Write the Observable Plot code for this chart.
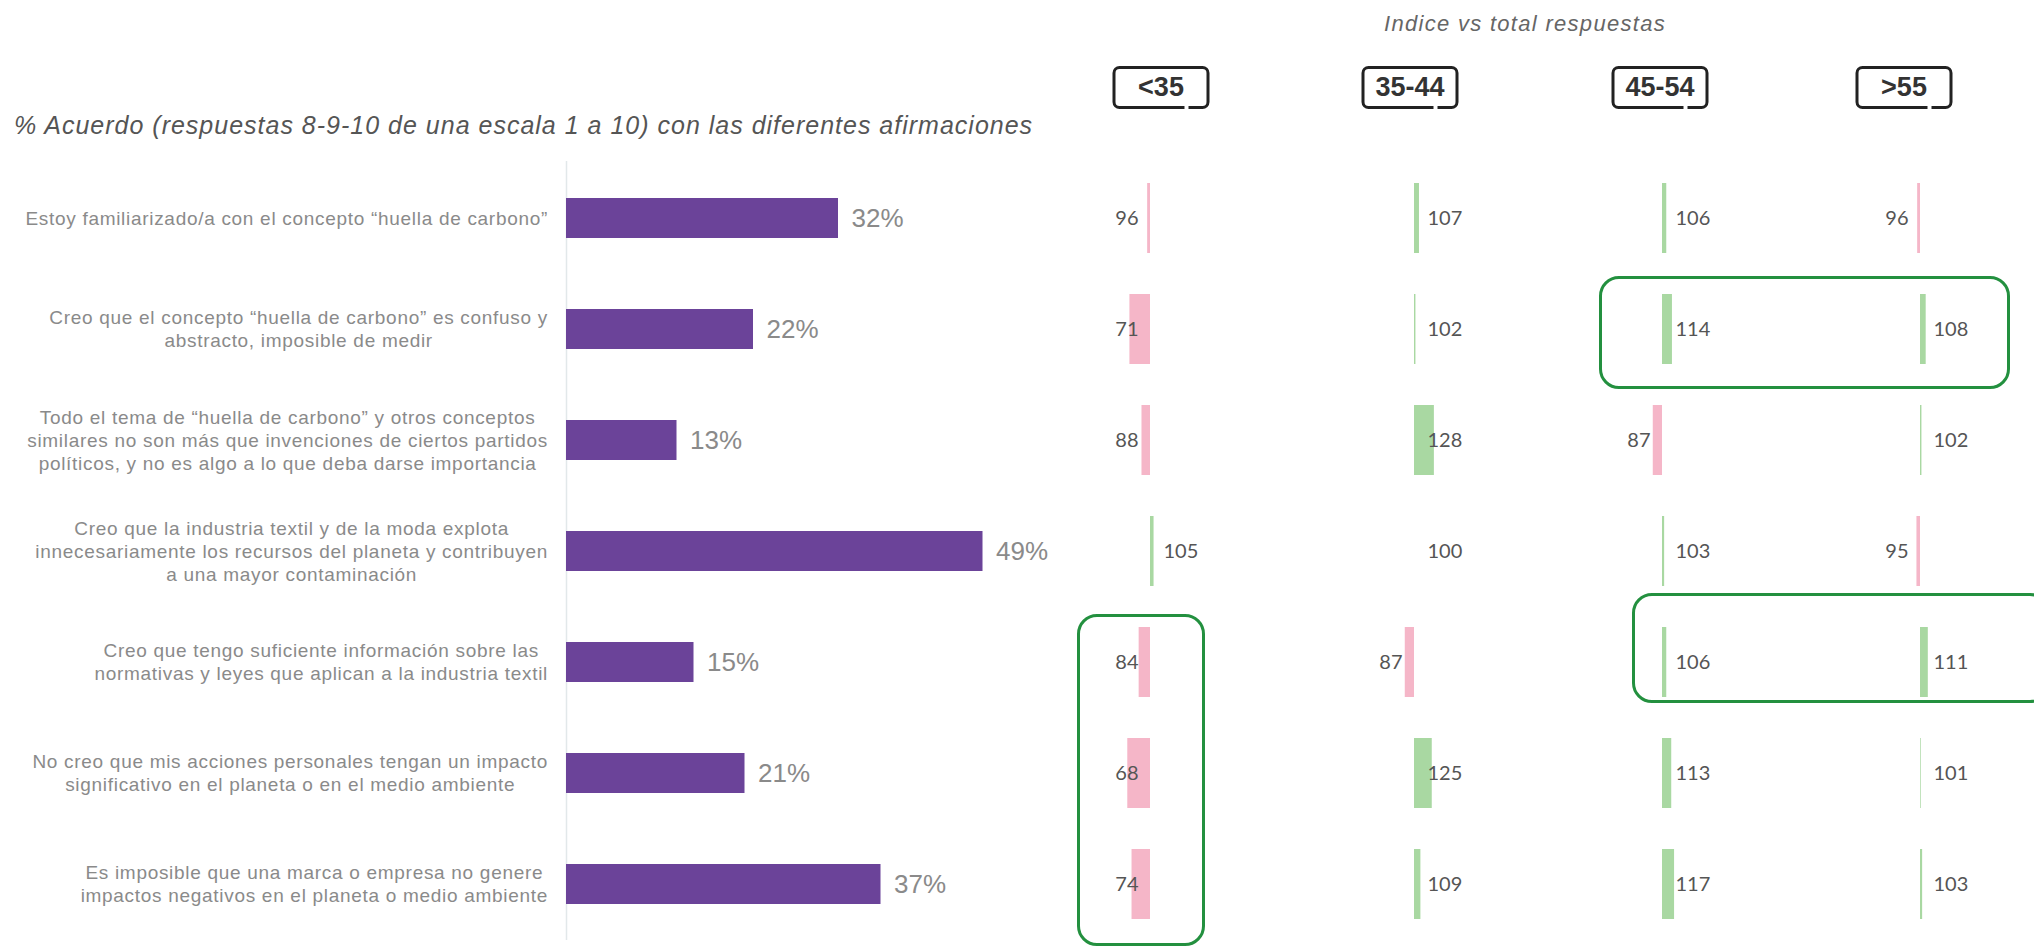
<!DOCTYPE html>
<html><head><meta charset="utf-8">
<script src="https://cdn.jsdelivr.net/npm/d3@7"></script>
<script src="https://cdn.jsdelivr.net/npm/@observablehq/plot@0.6"></script>
<style>
body{margin:0;background:#fff;}
#wrap{position:relative;width:2034px;height:947px;overflow:hidden;font-family:"Liberation Sans",Arial,sans-serif;}
#wrap svg{position:absolute;}
#title{position:absolute;left:14px;top:111px;font-size:25px;letter-spacing:1px;font-style:italic;color:#555;white-space:nowrap;}
#subtitle{position:absolute;left:1525px;top:11px;transform:translateX(-50%);font-size:22px;letter-spacing:1.3px;font-style:italic;color:#666;white-space:nowrap;}
.hdr{position:absolute;top:66px;height:43px;width:97px;box-sizing:border-box;border:3px solid #222;border-radius:7px;font-weight:bold;font-size:27px;color:#333;display:flex;align-items:center;justify-content:center;transform:translateX(-50%);}
.hdr::after{content:"";position:absolute;bottom:-4px;right:20%;width:4px;height:6px;background:#fff;}
.cat{position:absolute;text-align:center;font-size:19px;letter-spacing:0.7px;line-height:23px;color:#8a8a8a;transform:translateY(-50%);white-space:pre;}
.gbox{position:absolute;box-sizing:border-box;border:3.5px solid #23903f;border-radius:20px;}
</style></head>
<body><div id="wrap"></div>
<script>
// ---------- data ----------
const statements = [
  "Estoy familiarizado/a con el concepto “huella de carbono”",
  "Creo que el concepto “huella de carbono” es confuso y\nabstracto, imposible de medir",
  "Todo el tema de “huella de carbono” y otros conceptos\nsimilares no son más que invenciones de ciertos partidos\npolíticos, y no es algo a lo que deba darse importancia",
  "Creo que la industria textil y de la moda explota\ninnecesariamente los recursos del planeta y contribuyen\na una mayor contaminación",
  "Creo que tengo suficiente información sobre las\nnormativas y leyes que aplican a la industria textil",
  "No creo que mis acciones personales tengan un impacto\nsignificativo en el planeta o en el medio ambiente",
  "Es imposible que una marca o empresa no genere\nimpactos negativos en el planeta o medio ambiente"
];
const agreement = [0.32, 0.22, 0.13, 0.49, 0.15, 0.21, 0.37];
const ageGroups = ["<35", "35-44", "45-54", ">55"];
const indexUnder35 = [96, 71, 88, 105, 84, 68, 74];
const index35to44 = [107, 102, 128, 100, 87, 125, 109];
const index45to54 = [106, 114, 87, 103, 106, 113, 117];
const indexOver55 = [96, 108, 102, 95, 111, 101, 103];
const titleText = "% Acuerdo (respuestas 8-9-10 de una escala 1 a 10) con las diferentes afirmaciones";
const subtitleText = "Indice vs total respuestas";

// ---------- layout ----------
const wrap = document.getElementById("wrap");
const PLOT_TOP = 161, PLOT_H = 779;
const groupBase = [1150, 1414, 1662, 1920];   // pixel position of index 100 per group
const headerCenter = [1161, 1410, 1660, 1904];
const indexSeries = [indexUnder35, index35to44, index45to54, indexOver55];

function add(el){ wrap.appendChild(el); return el; }
function div(cls, text){ const d = document.createElement("div"); if (cls.startsWith("#")) d.id = cls.slice(1); else d.className = cls; if (text != null) d.textContent = text; return d; }

add(div("#title", titleText));
add(div("#subtitle", subtitleText));

// left bar chart
const agreeRows = statements.map((s, i) => ({s, v: agreement[i]}));
const left = Plot.plot({
  width: 1076, height: PLOT_H,
  marginLeft: 566, marginRight: 0, marginTop: 0, marginBottom: 0,
  x: {domain: [0, 0.6], axis: null},
  y: {domain: statements, paddingInner: 0.64, paddingOuter: 0.32, axis: null},
  style: {background: "transparent", overflow: "visible"},
  marks: [
    Plot.ruleX([0], {stroke: "#e2e8ea", strokeWidth: 1.5}),
    Plot.barX(agreeRows, {x: "v", y: "s", fill: "#6b4399"}),
    Plot.text(agreeRows, {x: "v", y: "s", text: d => Math.round(d.v * 100) + "%", dx: 13, textAnchor: "start",
      fontSize: 26, fill: "#8a8a8a", fontFamily: "Liberation Sans, Arial, sans-serif"})
  ]
});
left.style.left = "0px"; left.style.top = PLOT_TOP + "px";
add(left);

// category labels (centred multi-line blocks, right edge aligned), positioned with the plot's y scale
const yS = left.scale("y");
statements.forEach(s => {
  const d = add(div("cat", s));
  d.style.right = (2034 - 548) + "px";
  d.style.top = (PLOT_TOP + yS.apply(s) + yS.bandwidth / 2) + "px";
});

// index columns
const K = 0.71, HALF = 130;
const plots = [];
ageGroups.forEach((g, gi) => {
  const rows = statements.map((s, i) => ({s, v: indexSeries[gi][i]}));
  const p = Plot.plot({
    width: 2 * HALF, height: PLOT_H,
    marginLeft: 0, marginRight: 0, marginTop: 0, marginBottom: 0,
    x: {domain: [100 - HALF / K, 100 + HALF / K], axis: null},
    y: {domain: statements, paddingInner: 0.37, paddingOuter: 0.185, axis: null},
    color: {type: "identity"},
    style: {background: "transparent", overflow: "visible"},
    marks: [
      Plot.barX(rows, {x1: 100, x2: "v", y: "s", fill: d => d.v >= 100 ? "#a9d8a2" : "#f5b6c8"}),
      Plot.text(rows.filter(d => d.v < 100), {x: 100, y: "s", text: d => String(d.v), dx: -12, textAnchor: "end",
        fontSize: 20, fill: "#555", fontFamily: "Lato, sans-serif"}),
      Plot.text(rows.filter(d => d.v >= 100), {x: 100, y: "s", text: d => String(d.v), dx: 13, textAnchor: "start",
        fontSize: 20, fill: "#555", fontFamily: "Lato, sans-serif"})
    ]
  });
  p.style.left = (groupBase[gi] - HALF) + "px"; p.style.top = PLOT_TOP + "px";
  add(p);
  plots.push(p);
  const h = add(div("hdr", g));
  h.style.left = headerCenter[gi] + "px";
});

// highlight boxes, positioned from the index plots' scales
function rowCenter(i){ const y = plots[0].scale("y"); return PLOT_TOP + y.apply(statements[i]) + y.bandwidth / 2; }
function box(x0, x1, y0, y1){
  const b = add(div("gbox"));
  b.style.left = x0 + "px"; b.style.top = y0 + "px";
  b.style.width = (x1 - x0) + "px"; b.style.height = (y1 - y0) + "px";
}
box(groupBase[2] - 63, groupBase[3] + 90, rowCenter(1) - 53, rowCenter(1) + 60);
box(groupBase[0] - 73, groupBase[0] + 55, rowCenter(4) - 48, rowCenter(6) + 62);
box(groupBase[2] - 30, groupBase[3] + 130, rowCenter(4) - 69, rowCenter(4) + 41);
</script>
</body></html>
